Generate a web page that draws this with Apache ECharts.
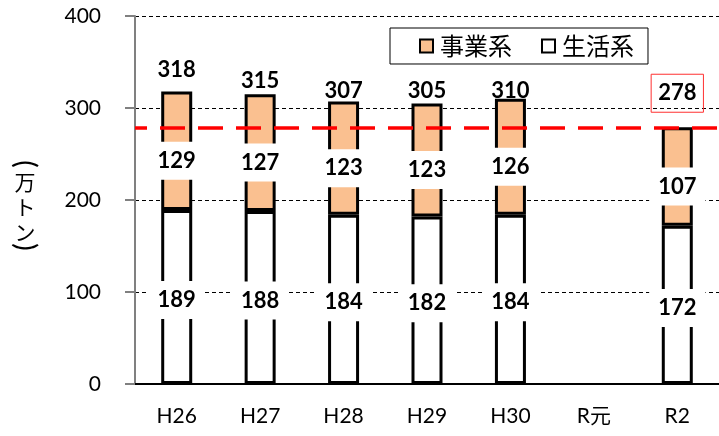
<!DOCTYPE html>
<html>
<head>
<meta charset="utf-8">
<script src="https://cdn.jsdelivr.net/npm/echarts@6/dist/echarts.min.js"></script>
<style>
html,body{margin:0;padding:0;background:#fff;}
#chart{width:719px;height:436px;}
</style>
</head>
<body>
<div id="chart"></div>
<script>
const categories = ['H26', 'H27', 'H28', 'H29', 'H30', 'R元', 'R2'];
const jigyou = [129, 127, 123, 123, 126, null, 107];
const seikatsu = [189, 188, 184, 182, 184, null, 172];
const totals = [318, 315, 307, 305, 310, null, 278];
const targetValue = 278;
const yMin = 0, yMax = 400, yStep = 100;
const legendNames = ['事業系', '生活系'];
const axisNameBody = ['万', 'ト', 'ン'];

const FONT = 'Lato, "Noto Sans CJK JP", sans-serif';
const CJK = '"Noto Sans CJK JP", sans-serif';
const totalLift = [-10, -1, 1, 0, 4, 0, -16];

const chart = echarts.init(document.getElementById('chart'), null, {renderer: 'canvas'});

const innerLabel = (dy) => ({
  show: true,
  position: 'inside',
  offset: [0, dy],
  fontFamily: FONT,
  fontWeight: 'bold',
  fontSize: 22,
  color: '#000',
  backgroundColor: '#fff',
  padding: [7, 9],
  lineHeight: 24
});

const totalData = totals.map((v, i) => {
  if (v == null) return null;
  const lab = {
    show: true, position: 'top', distance: 0, offset: [0, totalLift[i]],
    fontFamily: FONT, fontWeight: 'bold', fontSize: 22, color: '#000',
    lineHeight: 24, formatter: '{c}'
  };
  if (i === totals.length - 1) {
    lab.borderColor = '#FF3030';
    lab.borderWidth = 1;
    lab.padding = [7, 7];
  }
  return {value: v, label: lab};
});

const paren = (ch, y) => ({
  type: 'group', x: 25, y: y, rotation: -Math.PI / 2,
  children: [{
    type: 'text', x: 0, y: 0,
    style: {text: ch, fontFamily: 'Lato, sans-serif', fontSize: 28, fill: '#000', align: 'center', verticalAlign: 'middle'}
  }]
});

chart.setOption({
  animation: false,
  grid: {left: 135, right: 0, top: 16, bottom: 52, containLabel: false},
  legend: {
    data: legendNames,
    left: 390, top: 28,
    orient: 'horizontal',
    backgroundColor: '#fff',
    borderColor: '#000', borderWidth: 1, borderRadius: 0,
    padding: [6, 14, 6, 29],
    itemGap: 29,
    itemWidth: 13, itemHeight: 13,
    icon: 'rect',
    itemStyle: {borderColor: '#000', borderWidth: 2},
    textStyle: {fontFamily: CJK, fontSize: 24, color: '#000', padding: [0, 0, 0, 2]}
  },
  xAxis: {
    type: 'category',
    data: categories,
    axisLine: {lineStyle: {color: '#000', width: 2}},
    axisTick: {show: false},
    axisLabel: {fontFamily: FONT, fontSize: 21, color: '#000', margin: 22}
  },
  yAxis: {
    type: 'value',
    min: yMin, max: yMax, interval: yStep,
    axisLine: {show: true, lineStyle: {color: '#808080', width: 2}},
    axisTick: {show: true, length: 10, lineStyle: {color: '#808080', width: 2}},
    axisLabel: {fontFamily: FONT, fontSize: 21, color: '#000', margin: 34},
    splitLine: {show: true, lineStyle: {color: '#000', width: 1, type: [4, 3]}}
  },
  graphic: [
    paren('(', 164),
    {
      type: 'text', x: 25, y: 207,
      style: {text: axisNameBody.join('\n'), fontFamily: CJK, fontSize: 21, lineHeight: 25, fill: '#000', align: 'center', verticalAlign: 'middle'}
    },
    paren(')', 247)
  ],
  series: [
    {
      name: '生活系', type: 'bar', stack: 'total', barWidth: 31, z: 2,
      data: seikatsu,
      itemStyle: {color: '#FFFFFF', borderColor: '#000', borderWidth: 3},
      label: innerLabel(3)
    },
    {
      name: '事業系', type: 'bar', stack: 'total', barWidth: 31, z: 2,
      data: jigyou,
      itemStyle: {color: '#FAC090', borderColor: '#000', borderWidth: 3},
      label: innerLabel(10)
    },
    {
      name: 'total', type: 'bar', barWidth: 31, barGap: '-100%', z: 5,
      data: totalData,
      itemStyle: {color: 'rgba(0,0,0,0)', borderWidth: 0},
      emphasis: {disabled: true},
      silent: true,
      markLine: {
        silent: true,
        symbol: ['none', 'none'],
        label: {show: false},
        lineStyle: {color: '#FF0000', width: 3.5, type: [25, 13], dashOffset: 13},
        data: [{yAxis: targetValue}]
      }
    }
  ]
});
</script>
</body>
</html>
